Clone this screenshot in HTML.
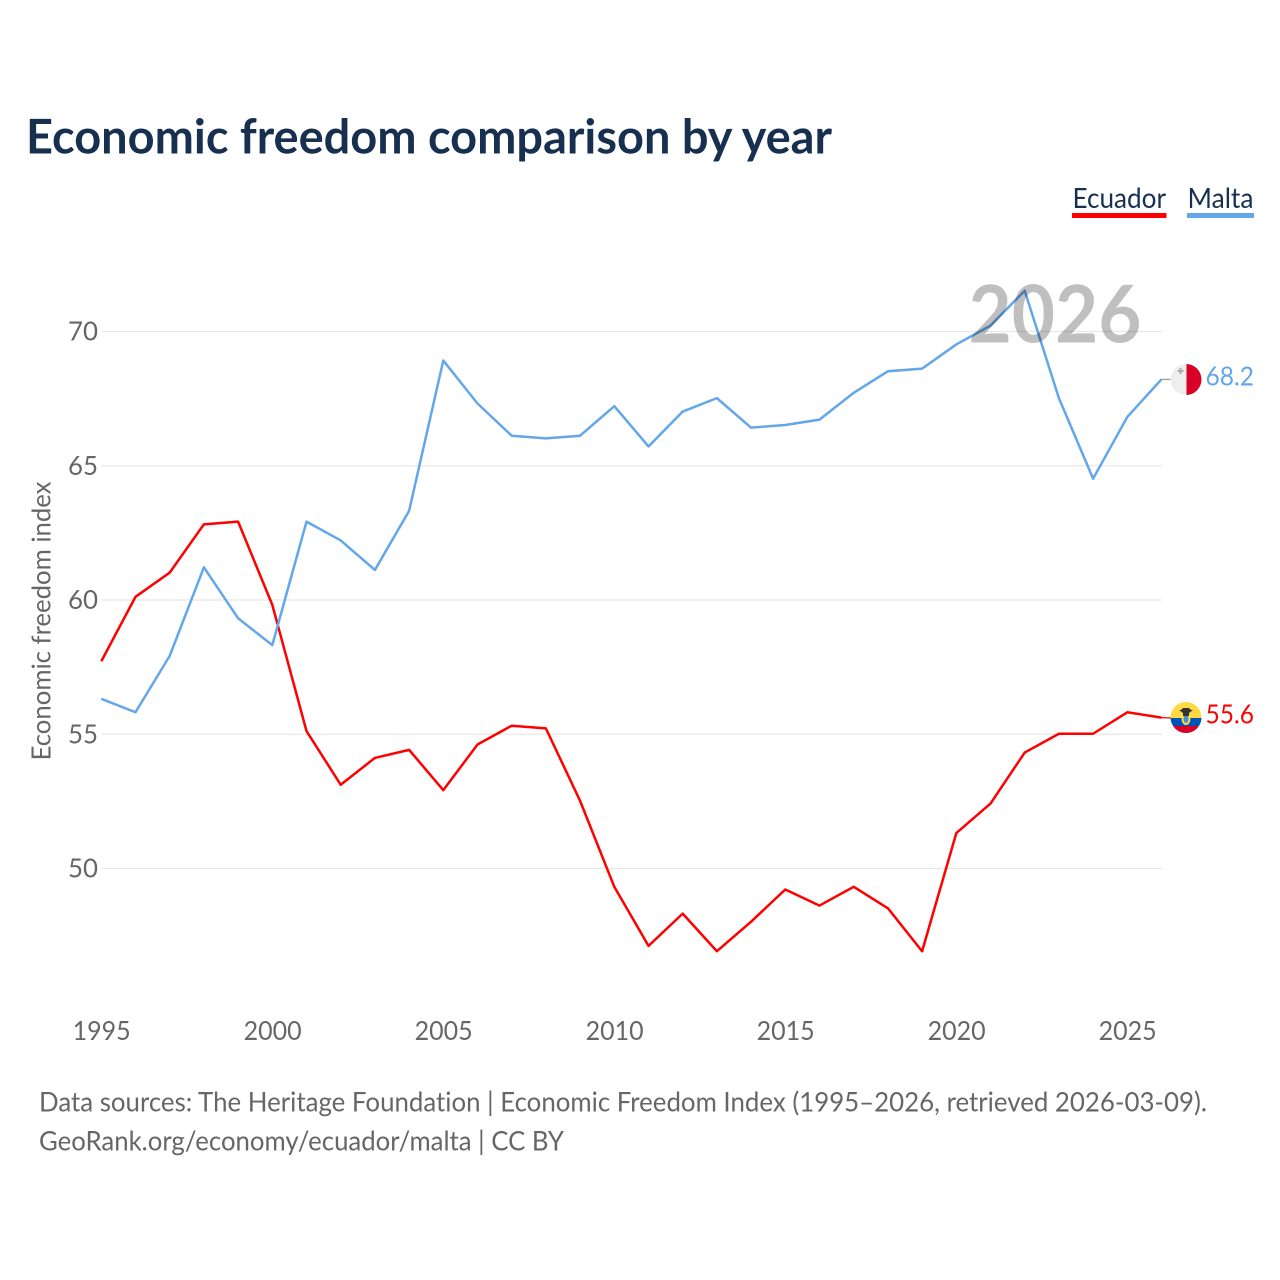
<!DOCTYPE html>
<html lang="en">
<head>
<meta charset="utf-8">
<title>Economic freedom comparison by year</title>
<style>
html,body{margin:0;padding:0;background:#fff;}
svg{display:block;}
text{font-family:"Lato","Carlito","Liberation Sans",sans-serif;font-variant-ligatures:none;}
</style>
</head>
<body>
<svg id="chart" xmlns="http://www.w3.org/2000/svg" width="1280" height="1280" viewBox="0 0 1280 1280">
  <rect x="0" y="0" width="1280" height="1280" fill="#ffffff"/>
  <text x="26" y="153.500" font-size="48" font-weight="700" fill="#18304f" textLength="806" lengthAdjust="spacingAndGlyphs">Economic freedom comparison by year</text>

  <g>
    <g>
      <text x="1072.500" y="208" font-size="28" fill="#18304f" textLength="93.500" lengthAdjust="spacingAndGlyphs">Ecuador</text>
      <rect x="1072" y="213" width="94.500" height="5" fill="#ff0000"/>
    </g>
    <g>
      <text x="1187.500" y="208" font-size="28" fill="#18304f" textLength="66" lengthAdjust="spacingAndGlyphs">Malta</text>
      <rect x="1187" y="213" width="67" height="5" fill="#63a6ea"/>
    </g>
  </g>

  <g id="grid"></g>
  <g id="yticks"></g>
  <g id="xticks"></g>
  <text transform="translate(50.500,621) rotate(-90)" text-anchor="middle" font-size="26" fill="#666666" textLength="279" lengthAdjust="spacingAndGlyphs">Economic freedom index</text>

  <g id="series"></g>

  <text x="1055" y="342.500" text-anchor="middle" font-size="80" font-weight="700" fill="#000000" fill-opacity="0.25" textLength="173" lengthAdjust="spacingAndGlyphs">2026</text>

  <g>
    <clipPath id="clip-mt"><circle cx="1186" cy="379.500" r="15.500"/></clipPath>
    <g clip-path="url(#clip-mt)">
      <rect x="1170" y="364" width="16.500" height="31" fill="#eeeeee"/>
      <rect x="1186.500" y="364" width="15" height="31" fill="#d80027"/>
      <path d="M1179.500 368h2v2h2v2h-2v2h-2v-2h-2v-2h2z" fill="#acabb1"/>
    </g>
    <text x="1254" y="385.500" text-anchor="end" font-size="26" fill="#63a6ea" textLength="48.500" lengthAdjust="spacingAndGlyphs">68.2</text>
  </g>
  <g>
    <clipPath id="clip-ec"><circle cx="1186" cy="717.500" r="15.500"/></clipPath>
    <g clip-path="url(#clip-ec)">
      <rect x="1170" y="702" width="32" height="16" fill="#ffda44"/>
      <rect x="1170" y="718" width="32" height="8" fill="#0052b4"/>
      <rect x="1170" y="726" width="32" height="8" fill="#d80027"/>
      <ellipse cx="1186" cy="719" rx="4.500" ry="6" fill="#ffda44"/>
      <ellipse cx="1186" cy="719" rx="2.500" ry="4" fill="#4a90d0"/>
      <path d="M1181 710l2 -2h6l2 2h2l-4 3v3h-6v-3l-4 -3z" fill="#333333"/>
    </g>
    <text x="1254" y="723.500" text-anchor="end" font-size="26" fill="#ff0000" textLength="48.500" lengthAdjust="spacingAndGlyphs">55.6</text>
  </g>

  <text x="39" y="1111.500" font-size="27" fill="#666666" textLength="1168" lengthAdjust="spacingAndGlyphs">Data sources: The Heritage Foundation | Economic Freedom Index (1995–2026, retrieved 2026-03-09).</text>
  <text x="39" y="1150.500" font-size="27" fill="#666666" textLength="525" lengthAdjust="spacingAndGlyphs">GeoRank.org/economy/ecuador/malta | CC BY</text>
</svg>
<script>
const years = [1995,1996,1997,1998,1999,2000,2001,2002,2003,2004,2005,2006,2007,2008,2009,2010,2011,2012,2013,2014,2015,2016,2017,2018,2019,2020,2021,2022,2023,2024,2025,2026];
const ecuadorValues = [57.7,60.1,61.0,62.8,62.9,59.8,55.1,53.1,54.1,54.4,52.9,54.6,55.3,55.2,52.5,49.3,47.1,48.3,46.9,48.0,49.2,48.6,49.3,48.5,46.9,51.3,52.4,54.3,55.0,55.0,55.8,55.6];
const maltaValues = [56.3,55.8,57.9,61.2,59.3,58.3,62.9,62.2,61.1,63.3,68.9,67.3,66.1,66.0,66.1,67.2,65.7,67.0,67.5,66.4,66.5,66.7,67.7,68.5,68.6,69.5,70.2,71.5,67.5,64.5,66.8,68.2];
const yTickLabels = [50,55,60,65,70];
const xTickLabels = [1995,2000,2005,2010,2015,2020,2025];

const NS = 'http://www.w3.org/2000/svg';
function xScale(year) { return 101.3 + (year - 1995) * (1127.3 - 101.3) / 30; }
function yScale(value) { return 868 + (value - 50) * (331 - 868) / 20; }
function make(tag, attrs, parent) {
  const el = document.createElementNS(NS, tag);
  for (const k in attrs) el.setAttribute(k, attrs[k]);
  parent.appendChild(el);
  return el;
}

const grid = document.getElementById('grid');
const yticks = document.getElementById('yticks');
const xticks = document.getElementById('xticks');
const series = document.getElementById('series');

yTickLabels.forEach(function (v) {
  const line = make('line', {x1: 101.5, x2: 1162, y1: yScale(v) + 0.5, y2: yScale(v) + 0.5, stroke: '#e8e8e8', 'stroke-width': 1.2}, grid);
  
  
  const t = make('text', {x: 98, y: yScale(v) + 9.5, 'text-anchor': 'end', 'font-size': 26, fill: '#666666', textLength: 30, lengthAdjust: 'spacingAndGlyphs'}, yticks);
  
  
  t.textContent = v;
});

xTickLabels.forEach(function (y) {
  const t = make('text', {x: xScale(y) + 0.3, y: 1040, 'text-anchor': 'middle', 'font-size': 26, fill: '#666666', textLength: 58, lengthAdjust: 'spacingAndGlyphs'}, xticks);
  
  
  t.textContent = y;
});

function pointsFor(values) {
  return values.map(function (v, i) { return xScale(years[i]) + ',' + yScale(v); }).join(' ');
}

const connMalta = make('line', {x1: xScale(2026), y1: yScale(maltaValues[maltaValues.length - 1]), x2: 1172, y2: 379.5, stroke: '#999999', 'stroke-width': 1.2}, series);


const connEcuador = make('line', {x1: xScale(2026), y1: yScale(ecuadorValues[ecuadorValues.length - 1]), x2: 1172, y2: 718, stroke: '#ff0000', 'stroke-width': 1.2}, series);



const lineEcuador = make('polyline', {points: pointsFor(ecuadorValues), fill: 'none', stroke: '#ff0000', 'stroke-width': 2.5, 'stroke-linejoin': 'round'}, series);


const lineMalta = make('polyline', {points: pointsFor(maltaValues), fill: 'none', stroke: '#63a6ea', 'stroke-width': 2.5, 'stroke-linejoin': 'round'}, series);


</script>
</body>
</html>
